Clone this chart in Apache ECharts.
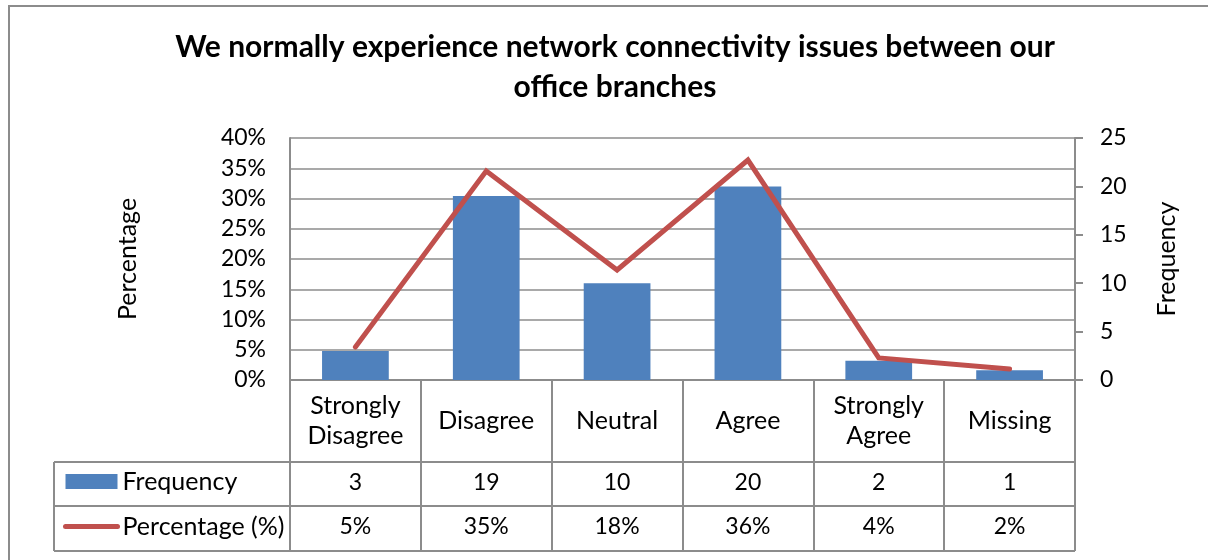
<!DOCTYPE html>
<html>
<head>
<meta charset="utf-8">
<title>Network connectivity issues between office branches</title>
<script src="https://cdn.jsdelivr.net/npm/echarts@6/dist/echarts.min.js"></script>
<style>
  html, body { margin: 0; padding: 0; background: #fff; }
  #chart { width: 1208px; height: 560px; }
</style>
</head>
<body>
<div id="chart"></div>
<script>
// Survey responses
const categories = ['Strongly Disagree', 'Disagree', 'Neutral', 'Agree', 'Strongly Agree', 'Missing'];
const frequency = [3, 19, 10, 20, 2, 1];
const percentage = [5.45, 34.55, 18.18, 36.36, 3.64, 1.82];
const percentTicks = [0, 5, 10, 15, 20, 25, 30, 35, 40];
const frequencyTicks = [0, 5, 10, 15, 20, 25];

const FONT = 'Lato, "Open Sans", sans-serif';
const TEXT_SIZE = 25;   // words: category names, legend, axis names
const NUM_SIZE = 23;    // numbers: tick labels and table values
const GRID = { left: 290, right: 1075, top: 138, bottom: 380 };
const ROWS = { header: 462, freq: 506, pct: 551 };
const TABLE_LEFT = 54;
const LINE_GREY = '#8c8c8c';

const chart = echarts.init(document.getElementById('chart'), null, { renderer: 'canvas' });

const wrapLabel = s => s.replace(' ', '\n');
const pctLabel = v => Math.round(v) + '%';

// Horizontal rules of the data table under the plot
const tableLines = [ROWS.header, ROWS.freq, ROWS.pct].map(y => ({
  type: 'line',
  shape: { x1: TABLE_LEFT, y1: y, x2: GRID.right, y2: y },
  style: { stroke: LINE_GREY, lineWidth: 2 },
  silent: true
}));
tableLines.push({
  type: 'line',
  shape: { x1: TABLE_LEFT, y1: ROWS.header, x2: TABLE_LEFT, y2: ROWS.pct },
  style: { stroke: LINE_GREY, lineWidth: 2 },
  silent: true
});

const tableAxis = (margin, formatter) => ({
  type: 'category',
  gridIndex: 0,
  position: 'bottom',
  data: categories,
  axisLine: { show: false },
  axisTick: { show: false },
  splitLine: { show: false },
  axisLabel: {
    interval: 0,
    margin: margin,
    verticalAlign: 'middle',
    color: '#000',
    fontFamily: FONT,
    fontSize: NUM_SIZE,
    formatter: formatter
  }
});

const option = {
  backgroundColor: '#fff',
  animation: false,
  title: {
    text: 'We normally experience network connectivity issues between our\noffice branches',
    left: 610,
    top: 22,
    textAlign: 'center',
    textStyle: {
      fontFamily: FONT,
      fontWeight: 'bold',
      fontSize: 30,
      lineHeight: 40,
      color: '#000'
    }
  },
  legend: {
    orient: 'vertical',
    left: 63,
    top: 468,
    padding: 0,
    itemWidth: 52,
    itemHeight: 15,
    itemGap: 18,
    selectedMode: false,
    textStyle: { fontFamily: FONT, fontSize: TEXT_SIZE, lineHeight: 27, color: '#000' },
    data: [
      { name: 'Frequency', icon: 'rect' },
      {
        name: 'Percentage (%)',
        lineStyle: { width: 5, cap: 'round' },
        itemStyle: { opacity: 0 }
      }
    ]
  },
  grid: {
    left: GRID.left,
    right: 1208 - GRID.right,
    top: GRID.top,
    bottom: 560 - GRID.bottom,
    containLabel: false
  },
  xAxis: [
    {
      type: 'category',
      gridIndex: 0,
      position: 'bottom',
      data: categories,
      axisLine: { show: true, lineStyle: { color: LINE_GREY, width: 2 } },
      axisTick: {
        show: true,
        interval: 0,
        length: ROWS.pct - GRID.bottom,
        lineStyle: { color: LINE_GREY, width: 2 }
      },
      axisLabel: {
        interval: 0,
        margin: 41,
        verticalAlign: 'middle',
        lineHeight: 30,
        color: '#000',
        fontFamily: FONT,
        fontSize: TEXT_SIZE,
        formatter: v => wrapLabel(v)
      }
    },
    tableAxis(103, (v, i) => String(frequency[i])),
    tableAxis(147, (v, i) => pctLabel(percentage[i]))
  ],
  yAxis: [
    {
      type: 'value',
      position: 'left',
      min: percentTicks[0],
      max: percentTicks[percentTicks.length - 1],
      interval: 5,
      name: 'Percentage',
      nameLocation: 'middle',
      nameRotate: 90,
      nameGap: 150,
      nameTextStyle: { fontFamily: FONT, fontSize: TEXT_SIZE, color: '#000' },
      axisLine: { show: true, lineStyle: { color: LINE_GREY, width: 2 } },
      axisTick: { show: false },
      axisLabel: {
        margin: 24,
        color: '#000',
        fontFamily: FONT,
        fontSize: NUM_SIZE,
        formatter: '{value}%'
      },
      splitLine: { show: true, lineStyle: { color: LINE_GREY, width: 1.5 } }
    },
    {
      type: 'value',
      position: 'right',
      min: frequencyTicks[0],
      max: frequencyTicks[frequencyTicks.length - 1],
      interval: 5,
      name: 'Frequency',
      nameLocation: 'middle',
      nameRotate: 90,
      nameGap: 79,
      nameTextStyle: { fontFamily: FONT, fontSize: TEXT_SIZE, color: '#000' },
      axisLine: { show: true, lineStyle: { color: LINE_GREY, width: 2 } },
      axisTick: { show: true, length: 8, lineStyle: { color: LINE_GREY, width: 2 } },
      axisLabel: {
        margin: 25,
        color: '#000',
        fontFamily: FONT,
        fontSize: NUM_SIZE
      },
      splitLine: { show: false }
    }
  ],
  series: [
    {
      name: 'Frequency',
      type: 'bar',
      xAxisIndex: 0,
      yAxisIndex: 1,
      data: frequency,
      barWidth: '51%',
      itemStyle: { color: '#4F81BD' },
      z: 2
    },
    {
      name: 'Percentage (%)',
      type: 'line',
      xAxisIndex: 0,
      yAxisIndex: 0,
      data: percentage,
      symbol: 'none',
      lineStyle: { color: '#C0504D', width: 5, cap: 'round', join: 'miter' },
      itemStyle: { color: '#C0504D' },
      z: 3
    }
  ],
  graphic: [
    {
      type: 'rect',
      shape: { x: 9, y: 6, width: 1300, height: 700 },
      style: { fill: null, stroke: LINE_GREY, lineWidth: 2 },
      silent: true,
      z: -1
    }
  ].concat(tableLines)
};

chart.setOption(option);
</script>
</body>
</html>
